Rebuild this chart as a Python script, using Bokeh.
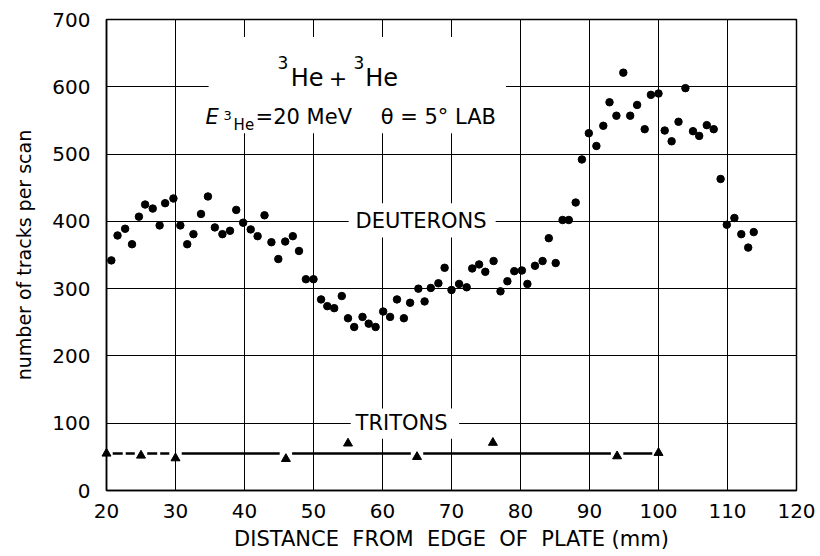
from bokeh.plotting import figure
from bokeh.models import Label, BoxAnnotation, FixedTicker, Range1d
from bokeh.embed import file_html
from bokeh.resources import INLINE

# ---- data ----
deut_x = [20.7, 21.6, 22.7, 23.7, 24.7, 25.6, 26.7, 27.7, 28.5, 29.7,
          30.7, 31.7, 32.6, 33.7, 34.7, 35.7, 36.8, 37.9, 38.8, 39.8,
          40.9, 41.9, 42.9, 43.9, 44.9, 45.9, 47.0, 47.9, 48.9, 50.0,
          51.1, 52.0, 53.0, 54.1, 55.0, 55.9, 57.1, 58.0, 59.0, 60.1,
          61.1, 62.1, 63.1, 64.0, 65.2, 66.1, 67.0, 68.1, 69.0, 70.0,
          71.1, 72.2, 73.0, 74.0, 74.9, 76.1, 77.1, 78.1, 79.1, 80.2,
          81.0, 82.1, 83.2, 84.1, 85.1, 86.1, 87.0, 88.0, 88.9, 89.9,
          91.0, 92.0, 92.9, 93.9, 94.9, 95.9, 96.9, 98.0, 98.9, 100.0,
          100.9, 101.9, 102.9, 103.9, 105.0, 105.9, 107.0, 108.0, 109.0, 109.9,
          111.0, 112.0, 113.0, 113.8]
deut_y = [342, 379, 389, 366, 407, 425, 419, 394, 427, 434,
          394, 366, 381, 411, 437, 391, 381, 386, 417, 398,
          388, 378, 409, 369, 344, 370, 378, 356, 314, 314,
          284, 274, 271, 289, 256, 243, 258, 248, 243, 266,
          258, 284, 256, 279, 300, 281, 301, 308, 331, 298,
          307, 302, 330, 336, 325, 341, 296, 311, 326, 327,
          307, 334, 341, 375, 338, 402, 402, 428, 492, 531,
          512, 542, 577, 557, 621, 557, 573, 537, 588, 590,
          535, 519, 548, 598, 534, 527, 543, 537, 463, 395,
          405, 381, 361, 384]

tri_x = [20, 25, 30, 46, 55, 65, 76, 94, 100]
tri_y = [55, 52, 48, 47, 70, 50, 71, 51, 56]
triton_level = 55

x_ticks = [20, 30, 40, 50, 60, 70, 80, 90, 100, 110, 120]
y_ticks = [0, 100, 200, 300, 400, 500, 600, 700]

FONT = "DejaVu Sans"
NB = "\u00a0"

p = figure(width=820, height=556, x_range=Range1d(20, 120), y_range=Range1d(0, 700),
           output_backend="svg", toolbar_location=None,
           min_border_left=106, min_border_right=24, min_border_top=19, min_border_bottom=66,
           background_fill_color="white", border_fill_color="white")

p.outline_line_color = "black"
p.outline_line_width = 1.5

for ax, ticks in ((p.xaxis, x_ticks), (p.yaxis, y_ticks)):
    ax.ticker = FixedTicker(ticks=ticks)
    ax.major_tick_in = 0
    ax.major_tick_out = 0
    ax.minor_tick_in = 0
    ax.minor_tick_out = 0
    ax.axis_line_width = 1.5
    ax.axis_line_color = "black"
    ax.major_label_text_font = FONT
    ax.major_label_text_font_size = "20px"
    ax.major_label_text_color = "black"
    ax.axis_label_text_font = FONT
    ax.axis_label_text_font_style = "normal"
    ax.axis_label_text_color = "black"

p.xaxis.axis_label = NB.join(["DISTANCE", "", "FROM", "", "EDGE", "", "OF", "", "PLATE", "(mm)"])
p.xaxis.axis_label_text_font_size = "21px"
p.xaxis.major_label_standoff = 13
p.xaxis.axis_label_standoff = 6
p.yaxis.axis_label = "number of tracks per scan"
p.yaxis.axis_label_text_font_size = "19px"
p.yaxis.major_label_standoff = 16
p.yaxis.axis_label_standoff = 14

p.xgrid.ticker = FixedTicker(ticks=x_ticks)
p.ygrid.ticker = FixedTicker(ticks=y_ticks)
for g in (p.xgrid, p.ygrid):
    g.grid_line_color = "black"
    g.grid_line_alpha = 1
    g.grid_line_width = 1

# white areas behind the text blocks (break the grid lines)
p.add_layout(BoxAnnotation(left=34.8, right=77.9, bottom=531, top=674,
                           fill_color="white", fill_alpha=1, line_alpha=0))
p.add_layout(BoxAnnotation(left=55.1, right=76.4, bottom=376, top=427,
                           fill_color="white", fill_alpha=1, line_alpha=0))
p.add_layout(BoxAnnotation(left=55.4, right=71.1, bottom=77, top=122,
                           fill_color="white", fill_alpha=1, line_alpha=0))

# deuterons
p.scatter(deut_x, deut_y, marker="circle", size=7.5, fill_color="black", line_color="black")

# tritons: mean level line with gaps at the triangles lying on it
on_line = [x for x, y in zip(tri_x, tri_y) if abs(y - triton_level) < 12]
gap = 0.9
x0 = [a + gap for a in on_line[:-1]]
x1 = [b - gap for b in on_line[1:]]
dash_idx = [i for i in range(len(x0)) if on_line[i + 1] <= 30]
solid_idx = [i for i in range(len(x0)) if on_line[i + 1] > 30]
p.segment([x0[i] for i in dash_idx], [triton_level] * len(dash_idx),
          [x1[i] for i in dash_idx], [triton_level] * len(dash_idx),
          line_color="black", line_width=2.6, line_dash="10 3")
p.segment([x0[i] for i in solid_idx], [triton_level] * len(solid_idx),
          [x1[i] for i in solid_idx], [triton_level] * len(solid_idx),
          line_color="black", line_width=2.6)
p.scatter(tri_x, tri_y, marker="triangle", size=9, fill_color="black",
          line_color="black", level="overlay")

def lab(x, y, text, size, style="normal", baseline="alphabetic", align="left"):
    p.add_layout(Label(x=x, y=y, text=text, text_font=FONT, text_font_size=f"{size}px",
                       text_font_style=style, text_color="black",
                       text_align=align, text_baseline=baseline))

# title block
lab(44.8, 636, "3", 17)
lab(46.7, 612.7, "He", 24)
lab(52.2, 612.7, "+", 22)
lab(55.8, 636, "3", 17)
lab(57.5, 612.7, "He", 24)

lab(34.36, 555.2, "E", 21, style="italic")
lab(36.97, 557.5, "3", 13)
lab(38.42, 542.8, "He", 15)
lab(41.61, 555.2, "=20" + NB + "MeV", 21)
lab(59.74, 555.2, "\u03b8 = 5\u00b0 LAB", 21)

lab(56.1, 400, "DEUTERONS", 21, baseline="middle")
lab(56.1, 100, "TRITONS", 21, baseline="middle")

open("out.html", "w").write(file_html(p, INLINE))
